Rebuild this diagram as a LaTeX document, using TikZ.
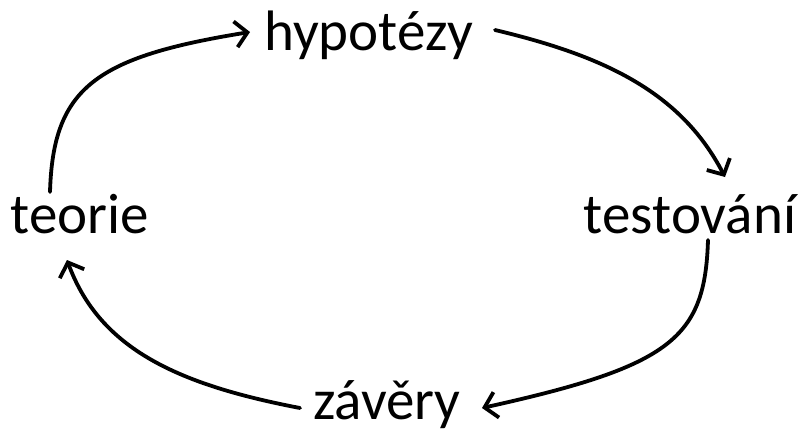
\documentclass[tikz,border=0pt]{standalone}
\usepackage{fontspec}
\setmainfont{Carlito}
\usetikzlibrary{arrows.meta}
\tikzset{
  lbl/.style={anchor=base, inner sep=0pt, font=\fontsize{57}{62}\selectfont},
  conn/.style={line width=3.8pt, line cap=round, -{Straight Barb[length=12pt,width=26pt,line width=3.8pt]}}
}
\begin{document}
\begin{tikzpicture}[x=1pt,y=-1pt]
\useasboundingbox (0,0) rectangle (803,432);
\node[lbl] (hyp) at (368.5,50) {hypotézy};
\node[lbl] (teo) at (80,233) {teorie};
\node[lbl] (tes) at (690,233) {testování};
\node[lbl] (zav) at (387,419) {závěry};
\draw[conn] ([shift={(-30,-41)}]teo.base) .. controls (53,88) and (95,57) .. ([shift={(-118.5,-18)}]hyp.base);
\draw[conn] ([shift={(126.5,-20)}]hyp.base) .. controls (600,55) and (680,90) .. ([shift={(35,-56)}]tes.base);
\draw[conn] ([shift={(18,7)}]tes.base) .. controls (705,338) and (672,366) .. ([shift={(95,-11)}]zav.base);
\draw[conn] ([shift={(-87,-11)}]zav.base) .. controls (180,385) and (100,350) .. ([shift={(-13,27)}]teo.base);
\end{tikzpicture}
\end{document}
